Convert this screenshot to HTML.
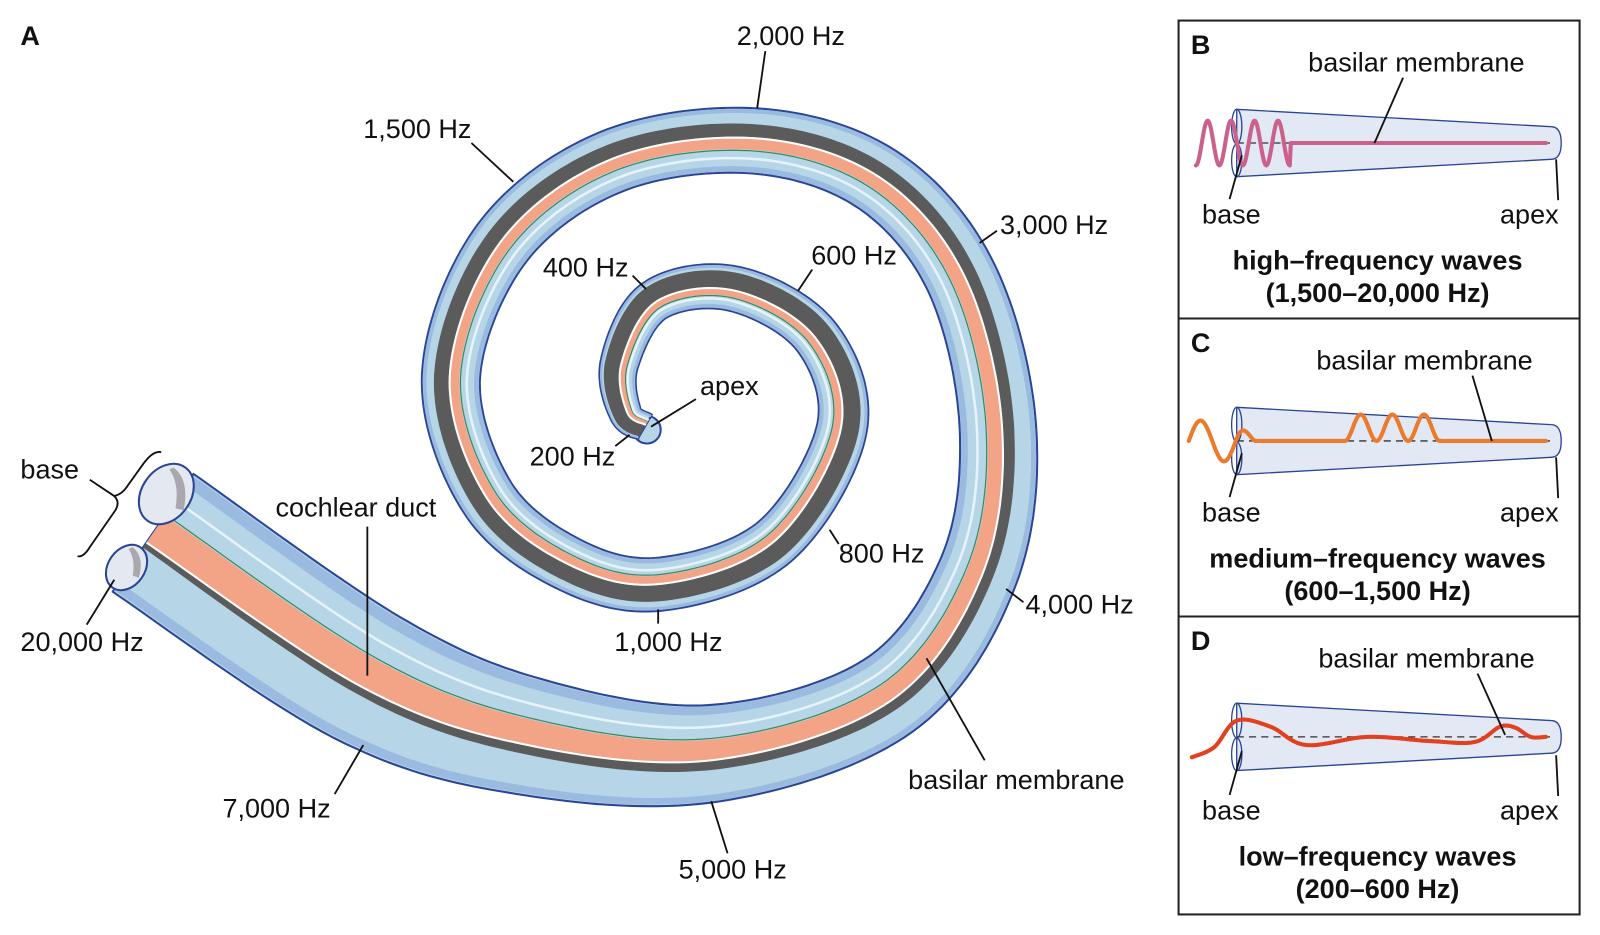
<!DOCTYPE html>
<html><head><meta charset="utf-8"><style>
html,body{margin:0;padding:0;background:#fff;}
svg{display:block;}
text{font-family:"Liberation Sans",Arial,sans-serif;font-size:26.5px;fill:#111;}
.b{font-weight:bold;}
.l{stroke:#111;stroke-width:1.8;fill:none;}
</style></head><body>
<svg id="s" width="1600" height="935" viewBox="0 0 1568 916" xmlns="http://www.w3.org/2000/svg">
<g id="tube"></g>
<g id="panels">
 <rect x="1155" y="20" width="393" height="876" fill="none" stroke="#222" stroke-width="2"/>
 <line x1="1155" y1="312" x2="1548" y2="312" stroke="#222" stroke-width="2"/>
 <line x1="1155" y1="604" x2="1548" y2="604" stroke="#222" stroke-width="2"/>
</g>
<g id="waves"></g>
<g id="labels">
<text x="20" y="44" class="b">A</text>
<text x="722" y="44">2,000 Hz</text><path class="l" d="M750 50 L742 106"/>
<text x="356" y="135">1,500 Hz</text><path class="l" d="M462 140 L503 178"/>
<text x="980" y="229">3,000 Hz</text><path class="l" d="M977 226 L960 238"/>
<text x="795" y="259">600 Hz</text><path class="l" d="M796 264 L782 285"/>
<text x="532" y="271">400 Hz</text><path class="l" d="M620 270 L633 283"/>
<text x="686" y="387">apex</text><path class="l" d="M682 391 L638 418"/>
<text x="519" y="456">200 Hz</text><path class="l" d="M603 437 L617 426"/>
<text x="822" y="551">800 Hz</text><path class="l" d="M822 533 L813 519"/>
<text x="602" y="638">1,000 Hz</text><path class="l" d="M645 597 L645 611"/>
<text x="1005" y="601">4,000 Hz</text><path class="l" d="M1003 590 L986 577"/>
<text x="890" y="773">basilar membrane</text><path class="l" d="M965 745 L908 645"/>
<text x="665" y="861">5,000 Hz</text><path class="l" d="M713 836 L697 785"/>
<text x="218" y="801">7,000 Hz</text><path class="l" d="M328 778 L356 730"/>
<text x="20" y="638">20,000 Hz</text><path class="l" d="M85 612 L112 568"/>
<text x="20" y="469">base</text>
<path class="l" d="M158 443 Q150 441 140 455 L125 476 Q120 484 112 486 Q118 492 113 500 L88 536 Q82 546 76 545"/>
<path class="l" d="M112 486 L88 470"/>
<text x="270" y="506">cochlear duct</text><path class="l" d="M360 516 L360 662"/>

<text x="1167" y="53" class="b">B</text>
<text x="1282" y="70">basilar membrane</text><path class="l" d="M1375 76 L1347 140"/>
<text x="1178" y="219">base</text><path class="l" d="M1205 195 L1217 152"/>
<text x="1470" y="219">apex</text><path class="l" d="M1527 196 L1525 156"/>
<text x="1350" y="264" class="b" text-anchor="middle">high–frequency waves</text>
<text x="1350" y="296" class="b" text-anchor="middle">(1,500–20,000 Hz)</text>

<text x="1167" y="345" class="b">C</text>
<text x="1290" y="362">basilar membrane</text><path class="l" d="M1443 368 L1462 432"/>
<text x="1178" y="511">base</text><path class="l" d="M1205 487 L1217 444"/>
<text x="1470" y="511">apex</text><path class="l" d="M1527 488 L1525 448"/>
<text x="1350" y="556" class="b" text-anchor="middle">medium–frequency waves</text>
<text x="1350" y="588" class="b" text-anchor="middle">(600–1,500 Hz)</text>

<text x="1167" y="637" class="b">D</text>
<text x="1292" y="654">basilar membrane</text><path class="l" d="M1448 660 L1475 720"/>
<text x="1178" y="803">base</text><path class="l" d="M1205 779 L1217 736"/>
<text x="1470" y="803">apex</text><path class="l" d="M1527 780 L1525 740"/>
<text x="1350" y="848" class="b" text-anchor="middle">low–frequency waves</text>
<text x="1350" y="880" class="b" text-anchor="middle">(200–600 Hz)</text>
</g>
</svg>
<script>
(function(){
var NS="http://www.w3.org/2000/svg";
function el(p,tag,a){var e=document.createElementNS(NS,tag);for(var k in a)e.setAttribute(k,a[k]);p.appendChild(e);return e;}
function cr(pts,n){var out=[];for(var i=0;i<pts.length-1;i++){var p0=pts[Math.max(i-1,0)],p1=pts[i],p2=pts[i+1],p3=pts[Math.min(i+2,pts.length-1)];
for(var j=0;j<n;j++){var t=j/n,t2=t*t,t3=t2*t;var r=[];for(var d=0;d<3;d++){r.push(0.5*((2*p1[d])+(-p0[d]+p2[d])*t+(2*p0[d]-5*p1[d]+4*p2[d]-p3[d])*t2+(-p0[d]+3*p1[d]-3*p2[d]+p3[d])*t3));}out.push(r);}}
out.push(pts[pts.length-1].slice());return out;}
var P=[[150,522,140],[360,664,135],[520,722,115],[700,738,95],[870,682,85],[958,562,78],[978,420,75],[942,272,70],[860,176,67],[740,138,64],[600,158,62],[492,238,60],[442,368,57],[478,488,55],[560,554,53],[650,572,52],[760,530,50],[825,420,49],[800,330,46],[720,283,44],[642,294,41],[607,356,37],[613,405,31],[632,418,27]];
var C=cr(P,20);var N=C.length;
var nrm=[];for(var i=0;i<N;i++){var a=C[Math.max(i-1,0)],b=C[Math.min(i+1,N-1)];var dx=b[0]-a[0],dy=b[1]-a[1],L=Math.hypot(dx,dy)||1;nrm.push([-dy/L,dx/L]);}
function lerp(a,b,t){return a+(b-a)*t;}
function prof(t,base,mid,apex){return t<0.45?lerp(base,mid,t/0.45):lerp(mid,apex,(t-0.45)/0.55);}
function band(f0,f1,fill,extra){var A=[],B=[];for(var i=0;i<N;i++){var t=i/(N-1);var h=C[i][2]/2;var s0=f0(t),s1=f1(t);
A.push((C[i][0]+nrm[i][0]*h*s0).toFixed(1)+","+(C[i][1]+nrm[i][1]*h*s0).toFixed(1));
B.push((C[i][0]+nrm[i][0]*h*s1).toFixed(1)+","+(C[i][1]+nrm[i][1]*h*s1).toFixed(1));}
var a={points:A.concat(B.reverse()).join(" "),fill:fill};for(var k in extra)a[k]=extra[k];return el(g,"polygon",a);}
function line(f,stroke,w){var A=[];for(var i=0;i<N;i++){var t=i/(N-1);var h=C[i][2]/2;var s=f(t);A.push((C[i][0]+nrm[i][0]*h*s).toFixed(1)+","+(C[i][1]+nrm[i][1]*h*s).toFixed(1));}
el(g,"polyline",{points:A.join(" "),fill:"none",stroke:stroke,"stroke-width":w});}
var g=document.getElementById("tube");
var e=C[N-1];
el(g,"circle",{cx:e[0]+2,cy:e[1]+3,r:e[2]/2,fill:"#b6d6e8",stroke:"#2a4496","stroke-width":2});
band(function(){return -1},function(){return 1},"#b6d6e8",{stroke:"#2a4496","stroke-width":2,"stroke-linejoin":"round"});
band(function(){return -0.97},function(){return -0.8},"#9bbae0");
band(function(){return 0.84},function(){return 0.97},"#9bbae0");
band(function(t){return prof(t,0.17,0.1,-0.1)},function(t){return prof(t,0.25,0.55,0.8)},"#5b5b5b");
band(function(t){return prof(t,-0.29,-0.27,-0.42)},function(t){return prof(t,0.16,0.04,-0.17)},"#f3a386");
line(function(t){return prof(t,0.165,0.07,-0.14)},"#ffffff",2);
line(function(t){return prof(t,-0.31,-0.31,-0.46)},"#3a8a5a",1.2);
line(function(){return -0.55},"#e6f3fa",2.5);
el(g,"ellipse",{cx:163,cy:484,rx:24,ry:32,transform:"rotate(35 163 484)",fill:"#e4e8f0",stroke:"#2a4496","stroke-width":2});
el(g,"path",{d:"M170 458 Q186 470 180 500 L172 498 Q176 474 166 460 Z",fill:"#a8a8ae"});
el(g,"ellipse",{cx:124,cy:556,rx:18,ry:24,transform:"rotate(35 124 556)",fill:"#e4e8f0",stroke:"#2a4496","stroke-width":2});
el(g,"path",{d:"M130 536 Q142 546 136 566 L130 564 Q133 548 126 538 Z",fill:"#a8a8ae"});
var w=document.getElementById("waves");
function cone(cy){
 el(w,"path",{d:"M1212 "+(cy-33)+" L1520 "+(cy-16)+" Q1530 "+(cy-16)+" 1530 "+cy+" Q1530 "+(cy+16)+" 1520 "+(cy+16)+" L1212 "+(cy+33)+" Z",fill:"#e2e9f4",stroke:"#2a4496","stroke-width":1.3});
 el(w,"ellipse",{cx:1212,cy:cy-16,rx:5,ry:17,fill:"none",stroke:"#2a4496","stroke-width":1.3});
 el(w,"ellipse",{cx:1212,cy:cy+17,rx:5,ry:16,fill:"none",stroke:"#2a4496","stroke-width":1.3});
 el(w,"line",{x1:1212,y1:cy,x2:1520,y2:cy,stroke:"#333","stroke-width":1.3,"stroke-dasharray":"7,5"});
}
cone(140);cone(432);cone(722);
function wave(pts,col,wd){el(w,"polyline",{points:pts.map(function(p){return p[0].toFixed(1)+","+p[1].toFixed(1)}).join(" "),fill:"none",stroke:col,"stroke-width":wd,"stroke-linejoin":"round","stroke-linecap":"round"});}
var pb=[];for(var x=1172;x<=1264;x++){pb.push([x,140-22*Math.sin(2*Math.PI*(x-1172)/23-Math.PI/2)]);}
for(var x=1265;x<=1515;x+=5)pb.push([x,140]);
wave(pb,"#c9618c",4);
var pc=[];for(var x=1165;x<=1230;x++){pc.push([x,432-20*Math.sin(2*Math.PI*(x-1165)/46)*(x<1211?1:Math.max(0,(1230-x)/19))]);}
for(var x=1231;x<=1318;x+=3)pc.push([x,432]);
for(var x=1318;x<=1412;x++){pc.push([x,432-13*(1-Math.cos(2*Math.PI*(x-1318)/31))]);}
for(var x=1413;x<=1515;x+=3)pc.push([x,432]);
wave(pc,"#ea7a2c",4);
var pd=cr([[1168,742,0],[1190,732,0],[1212,706,0],[1245,712,0],[1280,730,0],[1340,722,0],[1400,726,0],[1445,727,0],[1470,712,0],[1485,713,0],[1500,722,0],[1515,722,0]],10);
wave(pd,"#e2401e",4);
})();
</script>
</body></html>
